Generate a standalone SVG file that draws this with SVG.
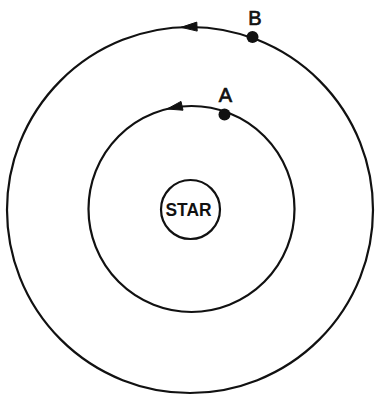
<svg xmlns="http://www.w3.org/2000/svg" width="375" height="397" viewBox="0 0 375 397">
<style>
.orbit{fill:none;stroke:#111;stroke-width:2.2}
.dot{fill:#111}
.arrow{fill:#111;stroke:#111;stroke-width:1;stroke-linejoin:miter}
.lbl{font-family:"Liberation Sans",Arial,sans-serif;font-size:20px;fill:#111;stroke:#111;stroke-width:0.7}
.star{font-family:"Liberation Sans",Arial,sans-serif;font-size:18px;font-weight:bold;fill:#111}
</style>
<rect width="375" height="397" fill="#fff"/>
<g id="outer-orbit">
<circle class="orbit" cx="190" cy="210" r="183"/>
</g>
<g id="inner-orbit">
<circle class="orbit" cx="191.5" cy="209" r="103"/>
</g>
<g id="star">
<circle class="orbit" cx="190.5" cy="209.5" r="29.5"/>
<text class="star" x="188.5" y="215.5" text-anchor="middle" textLength="46" lengthAdjust="spacingAndGlyphs">STAR</text>
</g>
<g id="planet-B">
<circle class="dot" cx="252.5" cy="37" r="6"/>
<text class="lbl" x="255" y="25" text-anchor="middle">B</text>
</g>
<g id="planet-A">
<circle class="dot" cx="224.5" cy="114.5" r="6"/>
<text class="lbl" x="225.5" y="102" text-anchor="middle">A</text>
</g>
<g id="connectors">
<polygon class="arrow" points="181,27.3 197.2,31.1 196.8,22.1"/>
<polygon class="arrow" points="167,109 183,110.2 181,101.4"/>
</g>
</svg>
